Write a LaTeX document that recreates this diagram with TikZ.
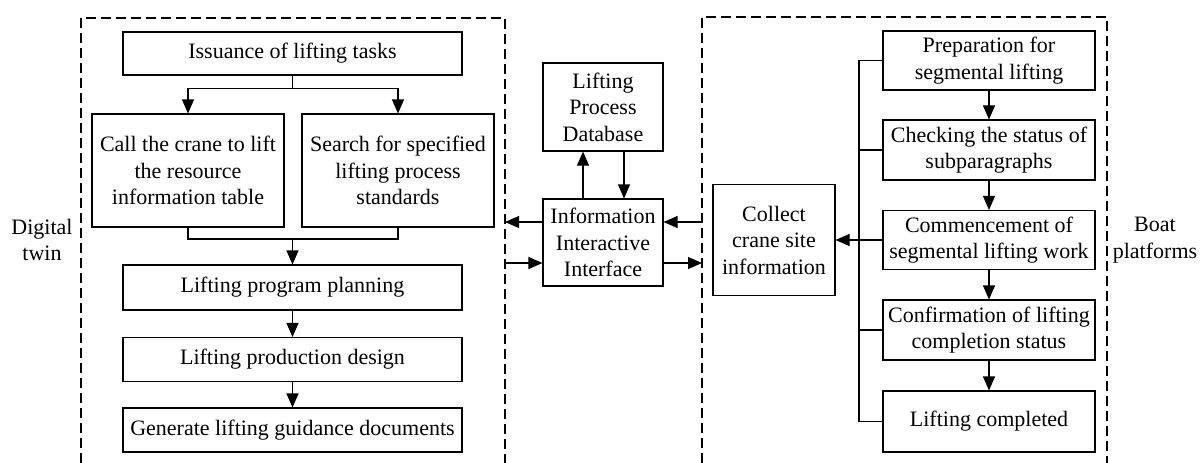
\documentclass[tikz,border=0pt]{standalone}
\usepackage{fontspec}
\setmainfont{Liberation Serif}
\newfontfamily\labelfont{Liberation Serif}
\usetikzlibrary{arrows.meta}
\begin{document}
\begin{tikzpicture}[x=1pt,y=-1pt,
  every node/.style={font=\labelfont\fontsize{22}{26.5}\selectfont, align=center, inner sep=0pt},
  box/.style={draw, line width=1.1pt, minimum width=#1},
  arr/.style={line width=1.1pt, -{Triangle[length=14pt,width=12pt]}},
  link/.style={line width=1.1pt},
  frame/.style={line width=1.1pt, dash pattern=on 10pt off 5pt}]
\useasboundingbox (0,0) rectangle (1200,463);

% dashed frames of the two sides
\draw[frame] (81,463) -- (81,18) -- (505,18) -- (505,463);
\draw[frame] (702,463) -- (702,17) -- (1107,17) -- (1107,463);
\coordinate (Lwall) at (505,0);
\coordinate (Rwall) at (702,0);
\coordinate (yA) at (0,222);
\coordinate (yB) at (0,263);
\coordinate (busx) at (859,0);

% side labels
\node (dtw) at (42,240) {Digital\\twin};
\node (boat) at (1155,240) {Boat\\platforms};

% digital twin column
\node[box=339pt, minimum height=43pt] (issue) at (292.5,53.5) {Issuance of lifting tasks};
\node[box=192pt, minimum height=113pt] (call) at (188,170.5) {Call the crane to lift\\the resource\\information table};
\node[box=192pt, minimum height=113pt] (search) at (398,170.5) {Search for specified\\lifting process\\standards};
\node[box=339pt, minimum height=45pt] (plan) at (292.5,287.5) {Lifting program planning};
\node[box=339pt, minimum height=44pt] (design) at (292.5,359.5) {Lifting production design};
\node[box=339pt, minimum height=44pt] (gen) at (292.5,430) {Generate lifting guidance documents};

\draw[arr] (issue.south) -- ++(0,13) -| (call.north);
\draw[arr] (issue.south) -- ++(0,13) -| (search.north);
\coordinate (merge) at (292.5,239);
\draw[link] (call.south) |- (merge) -| (search.south);
\draw[arr] (merge) -- (plan.north);
\draw[arr] (plan) -- (design);
\draw[arr] (design) -- (gen);

% interface in the middle
\node[box=120pt, minimum height=88pt] (db) at (603,107) {Lifting\\Process\\Database};
\node[box=120pt, minimum height=87pt] (iface) at (603,242.5) {Information\\Interactive\\Interface};
\draw[arr] ([xshift=-20pt]iface.north) -- ([xshift=-20pt]db.south);
\draw[arr] ([xshift=21pt]db.south) -- ([xshift=21pt]iface.north);
\draw[arr] (iface.west |- yA) -- (Lwall |- yA);
\draw[arr] (Lwall |- yB) -- (iface.west |- yB);
\draw[arr] (Rwall |- yA) -- (iface.east |- yA);
\draw[arr] (iface.east |- yB) -- (Rwall |- yB);

% boat platform column
\node[box=122pt, minimum height=111pt] (collect) at (774,240) {Collect\\crane site\\information};
\node[box=212pt, minimum height=59pt] (prep) at (989,60.5) {Preparation for\\segmental lifting};
\node[box=212pt, minimum height=60pt] (check) at (989,150) {Checking the status of\\subparagraphs};
\node[box=212pt, minimum height=59pt] (comm) at (989,240) {Commencement of\\segmental lifting work};
\node[box=212pt, minimum height=60pt] (conf) at (989,330) {Confirmation of lifting\\completion status};
\node[box=212pt, minimum height=61pt] (done) at (989,421.5) {Lifting completed};

\draw[arr] (prep) -- (check);
\draw[arr] (check) -- (comm);
\draw[arr] (comm) -- (conf);
\draw[arr] (conf) -- (done);

% collecting bus on the left of the steps
\draw[link] (prep.west) -- (busx |- prep.west) -- (busx |- done.west) -- (done.west);
\draw[link] (check.west) -- (busx |- check.west);
\draw[link] (conf.west) -- (busx |- conf.west);
\draw[arr] (comm.west) -- (collect.east);
\end{tikzpicture}
\end{document}
